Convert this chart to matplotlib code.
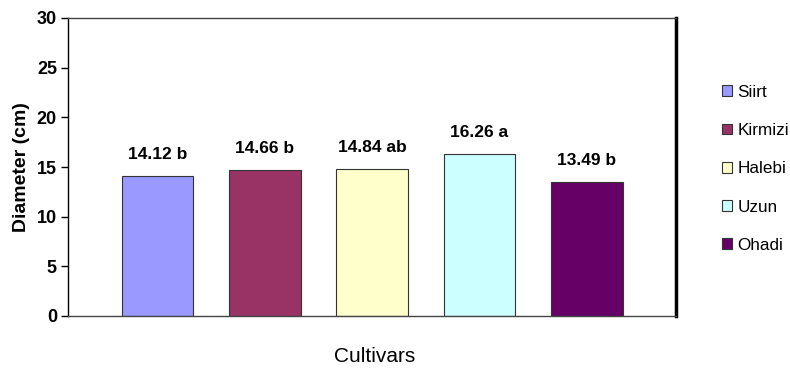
import matplotlib
matplotlib.use("Agg")
import matplotlib.pyplot as plt

plt.rcParams['font.family'] = ['Liberation Sans', 'DejaVu Sans']

cultivars = ["Siirt", "Kirmizi", "Halebi", "Uzun", "Ohadi"]
diameters = [14.12, 14.66, 14.84, 16.26, 13.49]
letters = ["b", "b", "ab", "a", "b"]
colors = ["#9999FF", "#993366", "#FFFFCC", "#CCFFFF", "#660066"]
yticks = [0, 5, 10, 15, 20, 25, 30]

fig = plt.figure(figsize=(7.9, 3.68), dpi=100)
ax = fig.add_axes([68/790, 1-316/368, 608/790, 298/368])

x = list(range(len(cultivars)))
bars = ax.bar(x, diameters, width=0.667, color=colors, edgecolor="#333333",
              linewidth=0.8, zorder=2)

for xi, v, l in zip(x, diameters, letters):
    ax.annotate(f"{v:.2f} {l}", (xi, v), xytext=(0, 15.5), textcoords="offset points",
                ha="center", va="center", fontsize=12.5, fontweight="bold")

ax.set_xlim(-0.835, 4.832)
ax.set_ylim(0, 30)
ax.set_yticks(yticks)
ax.set_yticklabels([str(t) for t in yticks], fontsize=13, fontweight="bold")
ax.set_xticks([])
ax.tick_params(axis="y", direction="out", length=5, width=1, pad=3, color="black")

ax.spines["left"].set_color("black")
ax.spines["left"].set_linewidth(1.0)
ax.spines["bottom"].set_color("#444444")
ax.spines["bottom"].set_linewidth(1.0)
ax.spines["top"].set_color("#444444")
ax.spines["top"].set_linewidth(1.0)
ax.spines["right"].set_color("black")
ax.spines["right"].set_linewidth(2.5)

ax.set_ylabel("Diameter (cm)", fontsize=14, fontweight="bold", labelpad=5)
fig.text(375/790, 1-356/368, "Cultivars", ha="center", va="center", fontsize=15)

leg = fig.legend(handles=list(bars), labels=cultivars, loc="upper left",
                 bbox_to_anchor=(715/790, 1-78/368), frameon=False,
                 fontsize=12.3, handlelength=0.6, handleheight=0.6,
                 handletextpad=0.3, labelspacing=1.36, borderaxespad=0)

fig.savefig("out.png", dpi=100)
